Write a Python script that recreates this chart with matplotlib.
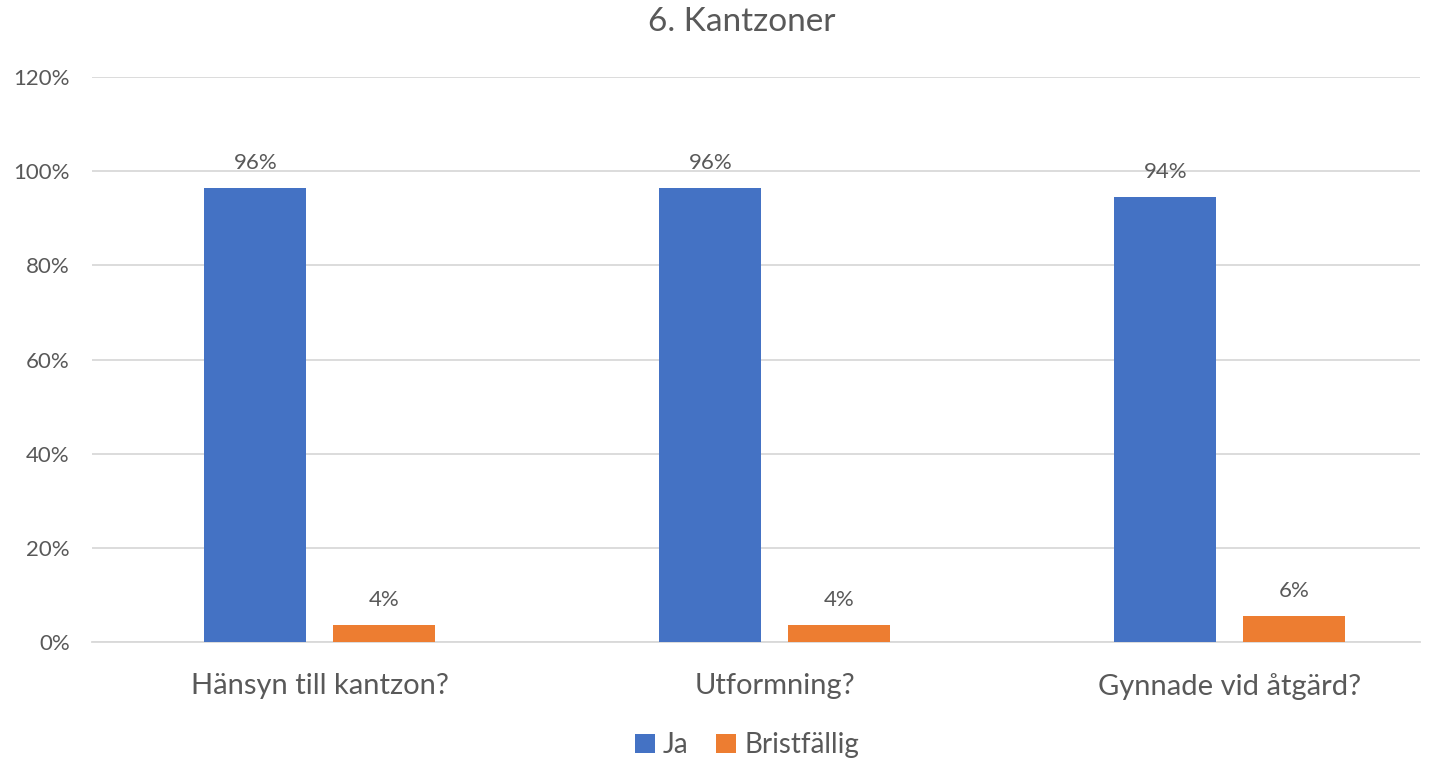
import matplotlib
matplotlib.use("Agg")
import matplotlib.pyplot as plt
import numpy as np

categories = ["Hänsyn till kantzon?", "Utformning?", "Gynnade vid åtgärd?"]
series_names = ["Ja", "Bristfällig"]
ja = [0.964, 0.964, 0.945]
bristfallig = [0.036, 0.036, 0.055]
ja_labels = ["96%", "96%", "94%"]
brist_labels = ["4%", "4%", "6%"]
yticks = [0, 0.2, 0.4, 0.6, 0.8, 1.0, 1.2]
ytick_labels = ["0%", "20%", "40%", "60%", "80%", "100%", "120%"]

plt.rcParams['font.family'] = ['Lato', 'DejaVu Sans']
txt = "#595959"
blue = "#4472C4"
orange = "#ED7D31"

fig = plt.figure(figsize=(14.34, 7.63), dpi=100)
ax = fig.add_axes([92/1434, 1-642/763, (1420-92)/1434, (642-77)/763])

x = np.arange(len(categories))
w = 0.224
off = 0.1418
b1 = ax.bar(x - off, ja, w, color=blue, label=series_names[0], zorder=3)
b2 = ax.bar(x + off, bristfallig, w, color=orange, label=series_names[1], zorder=3)

for rect, lab in zip(list(b1) + list(b2), ja_labels + brist_labels):
    ax.text(rect.get_x() + rect.get_width()/2, rect.get_height() + 0.032, lab,
            ha="center", va="bottom", fontsize=16, color=txt)

ax.set_xlim(-0.501, 2.418)
ax.set_ylim(0, 1.2)
ax.set_yticks(yticks)
ax.set_yticklabels(ytick_labels, fontsize=16, color=txt)
ax.set_xticks(x)
ax.set_xticklabels(categories, fontsize=21, color=txt)
ax.tick_params(axis="both", length=0)
ax.tick_params(axis="y", pad=16)
ax.tick_params(axis="x", pad=22)
ax.yaxis.grid(True, color="#D9D9D9", linewidth=1.3, zorder=0)
for s in ["top", "right", "left"]:
    ax.spines[s].set_visible(False)
ax.spines["bottom"].set_color("#D9D9D9")
ax.spines["bottom"].set_linewidth(1.3)

fig.text(742/1434, 1-22/763, "6. Kantzoner", ha="center", va="center", fontsize=24, color=txt)

leg = fig.legend(handles=[b1, b2], labels=series_names, loc="center",
                 bbox_to_anchor=(747/1434, 1-745/763), ncol=2, frameon=False,
                 fontsize=20, handlelength=0.7, handleheight=0.7, handletextpad=0.3,
                 columnspacing=1.0, labelcolor=txt)

fig.savefig("out.png", dpi=100)
